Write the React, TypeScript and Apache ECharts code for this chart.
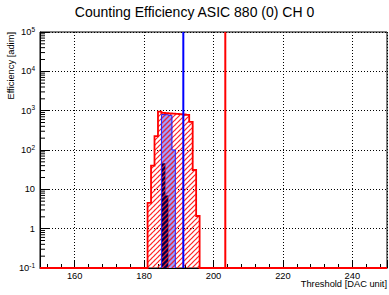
import React, { useEffect, useRef } from "react";
import * as echarts from "echarts";

// ---- data ----
const X_MIN = 150;
const X_MAX = 250;
const Y_MIN = 0.1;
const Y_MAX = 1e5;

const redStart = 181; // first bin lower edge (bin width 1 DAC unit)
const redValues = [4.5, 40, 225, 950, 880, 860, 850, 840, 830, 820, 800, 780, 520, 31, 2.1];

const blueStart = 185;
const blueValues = [800, 790, 760, 100];

const navyStart = 185;
const navyValues = [46, 7];

const blueThreshold = 191.3;
const redThreshold = 203.4;

const yDecades = [-1, 0, 1, 2, 3, 4, 5];
const yMinorMultipliers = [2, 3, 4, 5, 6, 7, 8, 9];

const titleText = "Counting Efficiency ASIC 880 (0) CH 0";
const xTitle = "Threshold [DAC unit]";
const yTitle = "Efficiency [adim]";

const FONT = "Liberation Sans, Arial, Helvetica, sans-serif";

function toBins(start: number, values: number[]) {
  return values.map((v, i) => [start + i, start + i + 1, v]);
}

function makeHatch(line: string, bg: string | null, size: number, lw: number) {
  const c = document.createElement("canvas");
  c.width = size;
  c.height = size;
  const ctx = c.getContext("2d")!;
  if (bg) {
    ctx.fillStyle = bg;
    ctx.fillRect(0, 0, size, size);
  }
  ctx.strokeStyle = line;
  ctx.lineWidth = lw;
  ctx.beginPath();
  ctx.moveTo(-1, size + 1);
  ctx.lineTo(size + 1, -1);
  ctx.moveTo(-1, 1);
  ctx.lineTo(1, -1);
  ctx.moveTo(size - 1, size + 1);
  ctx.lineTo(size + 1, size - 1);
  ctx.stroke();
  return { image: c, repeat: "repeat" } as any;
}

function histFill(bins: number[][], fill: any) {
  return {
    type: "custom",
    clip: false,
    data: bins,
    encode: { x: [0, 1], y: 2 },
    renderItem: (params: any, api: any) => {
      const x0 = api.value(0);
      const x1 = api.value(1);
      const v = api.value(2);
      const tl = api.coord([x0, v]);
      const br = api.coord([x1, Y_MIN]);
      const last = params.dataIndex === bins.length - 1;
      return {
        type: "rect",
        shape: { x: tl[0], y: tl[1], width: br[0] - tl[0] + (last ? 0 : 0.5), height: br[1] - tl[1] },
        style: { fill, stroke: null },
      };
    },
    z: 2,
  };
}

function histOutline(bins: number[][], color: string, lw: number, extend: boolean, z: number) {
  return {
    type: "custom",
    clip: false,
    data: bins,
    encode: { x: [0, 1], y: 2 },
    renderItem: (params: any, api: any) => {
      if (params.dataIndex !== bins.length - 1) return null;
      const pts: number[][] = [];
      if (extend) pts.push(api.coord([X_MIN, Y_MIN]));
      pts.push(api.coord([bins[0][0], Y_MIN]));
      bins.forEach((b) => {
        pts.push(api.coord([b[0], b[2]]));
        pts.push(api.coord([b[1], b[2]]));
      });
      pts.push(api.coord([bins[bins.length - 1][1], Y_MIN]));
      if (extend) pts.push(api.coord([X_MAX, Y_MIN]));
      return {
        type: "polyline",
        shape: { points: pts },
        style: { stroke: color, lineWidth: lw, fill: null },
      };
    },
    z,
  };
}

export default function App() {
  const ref = useRef<HTMLDivElement>(null);
  useEffect(() => {
    if (!ref.current) return;
    const chart = echarts.init(ref.current, undefined, { renderer: "svg" });

    const redHatch = makeHatch("#ff2020", null, 5, 1.1);
    const blueHatch = makeHatch("#4040ff", "#a0a0ff", 5, 1.1);
    const navyHatch = makeHatch("#23238f", "#00004e", 5, 1.1);

    const yMinorTicks: number[][] = [];
    yDecades.slice(0, -1).forEach((d) => {
      yMinorMultipliers.forEach((m) => yMinorTicks.push([X_MIN, m * Math.pow(10, d)]));
    });

    const option: any = {
      animation: false,
      textStyle: { fontFamily: FONT },
      title: {
        text: titleText,
        left: "center",
        top: 5,
        padding: 0,
        textStyle: { fontFamily: FONT, fontSize: 14, fontWeight: "normal", color: "#000" },
      },
      grid: {
        left: 40,
        top: 32,
        width: 347,
        height: 236,
        show: true,
        borderColor: "#000",
        borderWidth: 1,
        backgroundColor: "#fff",
      },
      xAxis: {
        type: "value",
        min: X_MIN,
        max: X_MAX,
        splitNumber: 5,
        axisLine: { show: true, onZero: false, lineStyle: { color: "#000", width: 1 } },
        axisTick: { show: true, inside: true, length: 8, lineStyle: { color: "#000" } },
        minorTick: { show: true, splitNumber: 5, length: 4, lineStyle: { color: "#000" } },
        splitLine: { show: true, lineStyle: { color: "#000", type: [1, 2], width: 1 } },
        axisLabel: {
          showMinLabel: false,
          showMaxLabel: false,
          margin: 3,
          fontSize: 9.3,
          color: "#000",
          fontFamily: FONT,
        },
      },
      yAxis: {
        type: "log",
        logBase: 10,
        min: Y_MIN,
        max: Y_MAX,
        splitNumber: 6,
        axisLine: { show: true, lineStyle: { color: "#000", width: 1 } },
        axisTick: { show: true, inside: true, length: 9, lineStyle: { color: "#000" } },
        splitLine: { show: true, lineStyle: { color: "#000", type: [1, 2], width: 1 } },
        axisLabel: {
          margin: 5,
          fontSize: 9.3,
          color: "#000",
          fontFamily: FONT,
          formatter: (v: number) => {
            const e = Math.round(Math.log10(v));
            if (e === 0) return "1";
            if (e === 1) return "10";
            return "10{sup|" + e + "}";
          },
          rich: {
            sup: { fontSize: 6.5, fontFamily: FONT, color: "#000", padding: [0, 0, 6, 0] },
          },
        },
      },
      graphic: [
        {
          type: "text",
          x: 387,
          y: 284,
          style: { text: xTitle, fontSize: 9.3, fontFamily: FONT, fill: "#000", align: "right", verticalAlign: "middle" },
        },
        {
          type: "text",
          x: 11,
          y: 32,
          rotation: Math.PI / 2,
          style: { text: yTitle, fontSize: 9.3, fontFamily: FONT, fill: "#000", align: "right", verticalAlign: "middle" },
        },
      ],
      series: [
        histFill(toBins(blueStart, blueValues), blueHatch),
        histOutline(toBins(blueStart, blueValues), "#2020ff", 1, false, 3),
        histFill(toBins(navyStart, navyValues), navyHatch),
        histFill(toBins(redStart, redValues), redHatch),
        histOutline(toBins(redStart, redValues), "#ff0000", 1.8, true, 4),
        {
          type: "custom",
          clip: false,
          data: yMinorTicks,
          encode: { x: 0, y: 1 },
          renderItem: (_p: any, api: any) => {
            const p = api.coord([api.value(0), api.value(1)]);
            return {
              type: "line",
              shape: { x1: p[0], y1: p[1], x2: p[0] + 5, y2: p[1] },
              style: { stroke: "#000", lineWidth: 1 },
            };
          },
          z: 5,
        },
        {
          type: "line",
          data: [
            [blueThreshold, Y_MIN],
            [blueThreshold, Y_MAX],
          ],
          symbol: "none",
          lineStyle: { color: "#0000ff", width: 2 },
          z: 6,
        },
        {
          type: "line",
          data: [
            [redThreshold, Y_MIN],
            [redThreshold, Y_MAX],
          ],
          symbol: "none",
          lineStyle: { color: "#ff0000", width: 2 },
          z: 6,
        },
      ],
    };
    chart.setOption(option);
    return () => chart.dispose();
  }, []);
  return <div ref={ref} style={{ position: "absolute", left: 0, top: 0, width: 389, height: 295 }} />;
}
